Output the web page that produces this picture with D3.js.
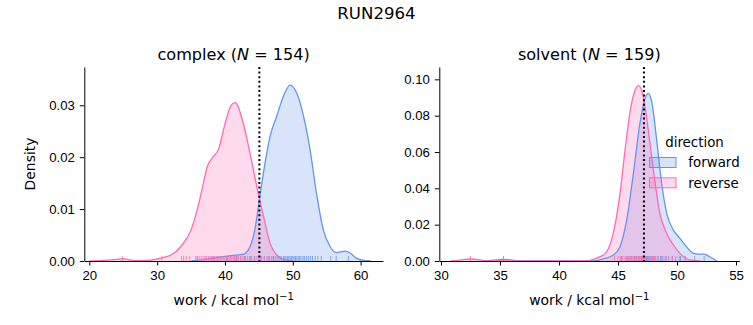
<!DOCTYPE html>
<html>
<head>
<meta charset="utf-8">
<script src="https://cdn.jsdelivr.net/npm/d3@7"></script>
<style>
  body { margin: 0; background: #fff; }
  svg { font-family: "DejaVu Sans", sans-serif; }
  .axis text { font-size: 13.2px; fill: #000; }
  .axis path, .axis line { stroke: #000; stroke-width: 1; }
</style>
</head>
<body>
<svg width="753" height="325"></svg>
<script>
// phase names and sample counts
var phases = ["complex", "solvent"],
    counts = [154, 159],
    directions = ["forward", "reverse"],
    colors = {forward: "#6495ED", reverse: "#FF69B4"};

// mean work line per phase
var centers = [45.07, 47.2];

// density curves, [work, density]
var complexForward = [[35,0],[36,0.0001],[38,0.0005],[40,0.0009],[42,0.0012],[42.7,0.0013],[43.7,0.0028],
  [44.4,0.006],[45.2,0.013],[45.9,0.0188],[46.65,0.024],[47.6,0.0278],[48.6,0.0317],[49.6,0.0339],
  [50.6,0.0323],[51.6,0.0278],[52.55,0.0214],[53.5,0.013],[54.5,0.006],[55.5,0.0028],[56.5,0.0016],
  [57.7,0.0019],[58.5,0.0015],[59.4,0.0005],[60.5,0.0001],[61.5,0]];
var complexReverse = [[20,0],[22,0.0001],[24,0.0003],[24.9,0.00045],[26,0.0002],[27,0.00005],[28.5,0.0001],
  [30,0.0004],[30.7,0.0006],[32.1,0.0012],[33.5,0.0028],[35.0,0.006],[35.9,0.0098],[36.7,0.0143],
  [37.4,0.0182],[38.1,0.0198],[39.1,0.0217],[39.9,0.0259],[40.9,0.030],[41.5,0.0305],[42.7,0.0265],
  [43.7,0.0207],[44.7,0.0143],[45.7,0.0085],[46.65,0.0034],[47.6,0.0012],[48.6,0.0003],[50,0]];
var solventForward = [[33.5,0],[34.5,0.0005],[35.3,0.0009],[36.2,0.0004],[37,0],[43,0],[43.8,0.0012],
  [44.6,0.0033],[45.17,0.0079],[45.74,0.0226],[46.3,0.048],[46.86,0.0758],[47.29,0.0895],[47.57,0.0923],
  [47.86,0.0877],[48.28,0.0666],[48.7,0.0428],[49.13,0.0262],[49.7,0.017],[50.25,0.0125],[50.8,0.0079],
  [51.4,0.0042],[51.8,0.0038],[52.3,0.0038],[52.8,0.0022],[53.4,0]];
var solventReverse = [[30.8,0],[31.5,0.0004],[32.5,0.0011],[33.5,0.0004],[34.2,0],[42,0],[42.6,0.0004],
  [43.5,0.0024],[44.05,0.0051],[44.6,0.0152],[45.17,0.037],[45.6,0.061],[46.0,0.0813],[46.4,0.0932],
  [46.75,0.0965],[47.15,0.0904],[47.57,0.072],[48.0,0.050],[48.56,0.026],[49.13,0.0152],[49.7,0.0088],
  [50.25,0.0042],[51.1,0.0006],[52,0]];

// individual work values shown in the rug
var complexForwardRug = [35.9,38.4,40.3,41.7,42.9,43.8,44.4,45.0,45.4,45.8,46.2,46.6,46.9,47.2,47.5,47.8,
  48.1,48.3,48.6,48.8,49.0,49.2,49.4,49.6,49.8,50.0,50.2,50.4,50.6,50.8,51.0,51.2,51.5,51.7,52.0,52.3,
  52.6,52.9,53.3,53.7,54.2,55.6,56.4,58.2];
var complexReverseRug = [24.9,30.7,33.6,33.9,34.3,34.8,35.7,36.0,36.3,36.6,36.9,37.1,37.3,37.6,37.8,38.0,
  38.2,38.4,38.7,38.9,39.1,39.3,39.5,39.8,40.0,40.2,40.4,40.6,40.8,41.0,41.2,41.4,41.6,41.8,42.0,42.3,
  42.5,42.8,43.0,43.3,43.6,43.9,44.3,44.7,45.2,45.8,46.4,47.1];
var solventForwardRug = [35.3,45.3,45.8,46.1,46.4,46.6,46.8,47.0,47.1,47.2,47.3,47.4,47.5,47.6,47.7,47.8,
  47.9,48.0,48.2,48.4,48.6,48.8,49.0,49.3,49.6,49.9,50.3,50.7,51.5,52.3];
var solventReverseRug = [32.5,44.7,45.0,45.2,45.4,45.6,45.7,45.9,46.0,46.1,46.2,46.3,46.4,46.5,46.6,46.7,
  46.8,46.9,47.0,47.1,47.2,47.3,47.4,47.5,47.7,47.9,48.1,48.4,48.7,49.1,49.6,50.2];

// tick values
var xTicks = [[20, 30, 40, 50, 60], [30, 35, 40, 45, 50, 55]],
    yTicks = [[0, 0.01, 0.02, 0.03], [0, 0.02, 0.04, 0.06, 0.08, 0.10]];

var curves = [{forward: complexForward, reverse: complexReverse},
              {forward: solventForward, reverse: solventReverse}];
var rugs = [{forward: complexForwardRug, reverse: complexReverseRug},
            {forward: solventForwardRug, reverse: solventReverseRug}];

var svg = d3.select("svg");

// panel frames
var panels = [
  {left: 84.3, top: 67, width: 298.7, height: 194, xDomain: [19.26, 63.3], yDomain: [0, 0.03738]},
  {left: 439.3, top: 67, width: 300, height: 194, xDomain: [29.86, 55.28], yDomain: [0, 0.1068]}
];

svg.append("text")
  .attr("x", 376.5).attr("y", 18.5)
  .attr("text-anchor", "middle")
  .style("font-size", "16.6px")
  .text("RUN2964");

panels.forEach(function(p, i) {
  var g = svg.append("g").attr("transform", "translate(" + p.left + "," + p.top + ")");
  var x = d3.scaleLinear().domain(p.xDomain).range([0, p.width]),
      y = d3.scaleLinear().domain(p.yDomain).range([p.height, 0]);

  var area = d3.area()
    .curve(d3.curveMonotoneX)
    .x(function(d) { return x(d[0]); })
    .y0(y(0))
    .y1(function(d) { return y(d[1]); });
  var line = d3.line()
    .curve(d3.curveMonotoneX)
    .x(function(d) { return x(d[0]); })
    .y(function(d) { return y(d[1]); });

  // filled kde for each direction
  directions.forEach(function(dir) {
    g.append("path")
      .datum(curves[i][dir])
      .attr("d", area)
      .attr("fill", colors[dir])
      .attr("fill-opacity", 0.25);
  });
  directions.forEach(function(dir) {
    g.append("path")
      .datum(curves[i][dir])
      .attr("d", line)
      .attr("fill", "none")
      .attr("stroke", colors[dir])
      .attr("stroke-width", 1.3);
  });

  // rug ticks along the bottom
  directions.forEach(function(dir) {
    g.selectAll(".rug-" + dir)
      .data(rugs[i][dir])
      .enter().append("line")
      .attr("class", "rug-" + dir)
      .attr("x1", function(d) { return x(d); })
      .attr("x2", function(d) { return x(d); })
      .attr("y1", p.height)
      .attr("y2", p.height - 5)
      .attr("stroke", colors[dir])
      .attr("stroke-opacity", 0.8)
      .attr("stroke-width", 1);
  });

  // dotted line at the center value
  g.append("line")
    .attr("x1", x(centers[i])).attr("x2", x(centers[i]))
    .attr("y1", 0).attr("y2", p.height)
    .attr("stroke", "#000")
    .attr("stroke-width", 2)
    .attr("stroke-dasharray", "2,2.6");

  g.append("g")
    .attr("class", "axis")
    .attr("transform", "translate(0," + p.height + ")")
    .call(d3.axisBottom(x).tickValues(xTicks[i]).tickSize(4.5).tickSizeOuter(0).tickPadding(5)
      .tickFormat(d3.format("d")))
    .call(function(a) { a.selectAll("text").attr("dy", "0.75em"); });

  g.append("g")
    .attr("class", "axis")
    .call(d3.axisLeft(y).tickValues(yTicks[i]).tickSize(4.5).tickSizeOuter(0).tickPadding(5)
      .tickFormat(d3.format(".2f")));

  // x label with superscript
  var xl = g.append("text")
    .attr("x", p.width / 2).attr("y", p.height + 43.5)
    .attr("text-anchor", "middle")
    .style("font-size", "13.9px");
  xl.append("tspan").text("work / kcal mol");
  xl.append("tspan").attr("dy", "-0.45em").style("font-size", "10px").text("\u22121");

  // panel title
  var t = g.append("text")
    .attr("x", p.width / 2).attr("y", -7.5)
    .attr("text-anchor", "middle")
    .style("font-size", "16.1px");
  t.append("tspan").text(phases[i] + " (");
  t.append("tspan").style("font-style", "italic").text("N");
  t.append("tspan").text(" = " + counts[i] + ")");

  if (i === 0) {
    g.append("text")
      .attr("transform", "rotate(-90)")
      .attr("x", -p.height / 2).attr("y", -49.5)
      .attr("text-anchor", "middle")
      .style("font-size", "13.9px")
      .text("Density");
  }
});

// legend for direction
var legend = svg.append("g").attr("transform", "translate(649,0)");
legend.append("text")
  .attr("x", 45.5).attr("y", 146.5)
  .attr("text-anchor", "middle")
  .style("font-size", "13.4px")
  .text("direction");
directions.forEach(function(dir, k) {
  var yy = 157.5 + k * 20.3;
  legend.append("rect")
    .attr("x", 0.5).attr("y", yy)
    .attr("width", 26.5).attr("height", 10)
    .attr("fill", colors[dir]).attr("fill-opacity", 0.25)
    .attr("stroke", colors[dir]).attr("stroke-width", 1);
  legend.append("text")
    .attr("x", 39.3).attr("y", yy + 9.8)
    .style("font-size", "13.4px")
    .text(dir);
});
</script>
</body>
</html>
